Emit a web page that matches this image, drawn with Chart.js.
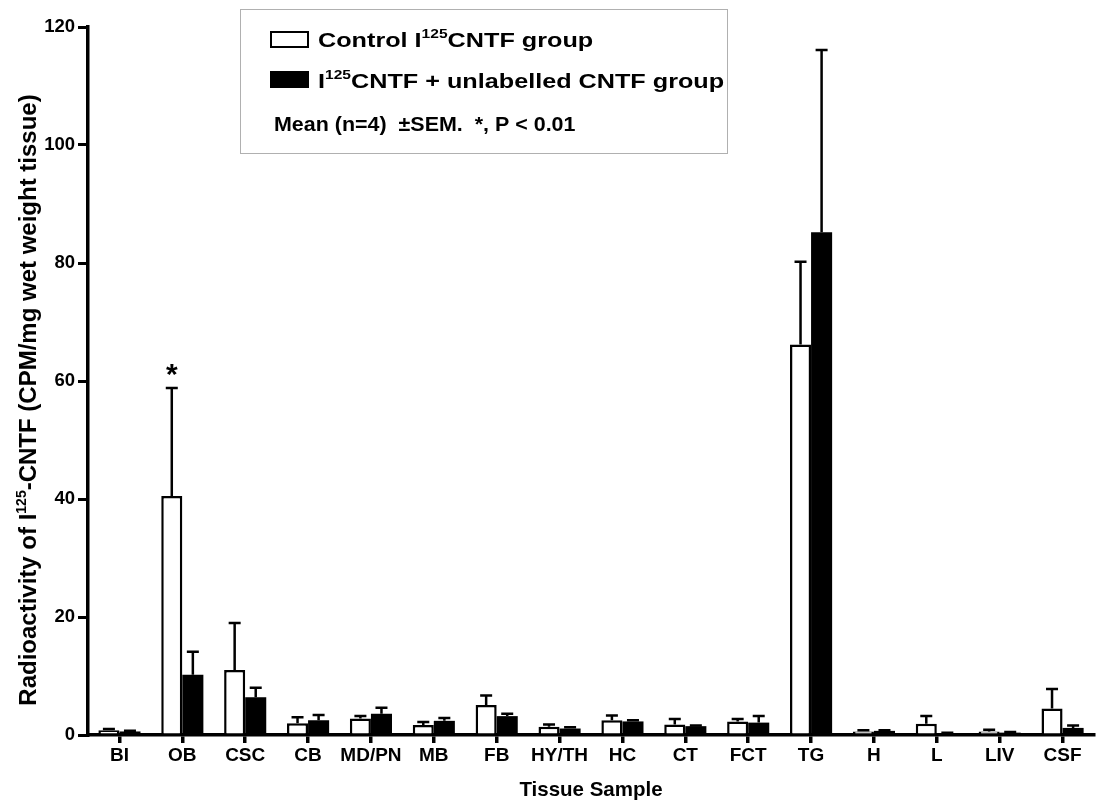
<!DOCTYPE html>
<html>
<head>
<meta charset="utf-8">
<script src="https://cdn.jsdelivr.net/npm/chart.js@4.4.1/dist/chart.umd.min.js"></script>
<style>
  html, body { margin: 0; padding: 0; background: #ffffff; }
  #wrap { width: 1114px; height: 807px; }
</style>
</head>
<body>
<div id="wrap"><canvas id="c" width="1114" height="807"></canvas></div>
<script>
// Tissue samples
const categories = ['BI', 'OB', 'CSC', 'CB', 'MD/PN', 'MB', 'FB', 'HY/TH', 'HC', 'CT', 'FCT', 'TG', 'H', 'L', 'LIV', 'CSF'];

// Control I125CNTF group: mean and SEM (CPM/mg wet weight tissue)
const controlMean = [0.8, 40.5, 11.0, 2.0, 2.8, 1.7, 5.1, 1.4, 2.5, 1.8, 2.3, 66.2, 0.6, 1.9, 0.6, 4.5];
const controlSem  = [0.2, 18.3, 8.0, 1.0, 0.4, 0.5, 1.6, 0.4, 0.8, 0.9, 0.4, 14.0, 0.2, 1.3, 0.3, 3.3];

// I125CNTF + unlabelled CNTF group: mean and SEM
const blockedMean = [0.6, 10.2, 6.4, 2.5, 3.6, 2.4, 3.2, 1.1, 2.3, 1.5, 2.1, 85.2, 0.7, 0.3, 0.4, 1.2];
const blockedSem  = [0.1, 3.9, 1.6, 0.9, 1.0, 0.5, 0.4, 0.2, 0.2, 0.1, 1.1, 30.9, 0.1, 0.1, 0.1, 0.4];

// Significance markers (control group), P < 0.01
const significance = ['', '*', '', '', '', '', '', '', '', '', '', '', '', '', '', ''];

// Y axis ticks
const yTicks = [0, 20, 40, 60, 80, 100, 120];

const FONT = '"Liberation Sans", Arial, Helvetica, sans-serif';
const semBySet = [controlSem, blockedSem];

// Draws text pieces where some parts are superscripts
function drawRich(ctx, parts, x, y, size) {
  let cx = x;
  for (const p of parts) {
    const s = p.sup ? Math.round(size * 0.6) : size;
    ctx.font = 'bold ' + s + 'px ' + FONT;
    const dy = p.sup ? -size * 0.42 : 0;
    ctx.fillText(p.t, cx, y + dy);
    cx += ctx.measureText(p.t).width;
  }
  return cx - x;
}
function measureRich(ctx, parts, size) {
  let w = 0;
  for (const p of parts) {
    const s = p.sup ? Math.round(size * 0.6) : size;
    ctx.font = 'bold ' + s + 'px ' + FONT;
    w += ctx.measureText(p.t).width;
  }
  return w;
}

const errorBars = {
  id: 'errorBars',
  afterDatasetsDraw(chart) {
    const ctx = chart.ctx;
    const y = chart.scales.y;
    ctx.save();
    ctx.strokeStyle = '#000';
    ctx.lineWidth = 2.5;
    chart.data.datasets.forEach((ds, di) => {
      const meta = chart.getDatasetMeta(di);
      meta.data.forEach((bar, i) => {
        const top = y.getPixelForValue(ds.data[i] + semBySet[di][i]);
        const base = y.getPixelForValue(ds.data[i]);
        ctx.beginPath();
        ctx.moveTo(bar.x, base);
        ctx.lineTo(bar.x, top);
        ctx.moveTo(bar.x - 6, top);
        ctx.lineTo(bar.x + 6, top);
        ctx.stroke();
        if (di === 0 && significance[i]) {
          ctx.fillStyle = '#000';
          ctx.font = 'bold 30px ' + FONT;
          ctx.textAlign = 'center';
          ctx.textBaseline = 'alphabetic';
          ctx.fillText(significance[i], bar.x, top - 4);
        }
      });
    });
    ctx.restore();
  }
};

const annotations = {
  id: 'annotations',
  afterDraw(chart) {
    const ctx = chart.ctx;
    ctx.save();
    ctx.fillStyle = '#000';
    ctx.textBaseline = 'alphabetic';
    ctx.textAlign = 'left';

    // Y axis title
    const yParts = [{t: 'Radioactivity of I'}, {t: '125', sup: true}, {t: '-CNTF (CPM/mg wet weight tissue)'}];
    const yw = measureRich(ctx, yParts, 24);
    ctx.save();
    ctx.translate(36, 400);
    ctx.rotate(-Math.PI / 2);
    drawRich(ctx, yParts, -yw / 2, 0, 24);
    ctx.restore();

    // Legend box
    ctx.strokeStyle = '#b0b0b0';
    ctx.lineWidth = 1;
    ctx.fillStyle = '#fff';
    ctx.fillRect(240.5, 9.5, 487, 144);
    ctx.strokeRect(240.5, 9.5, 487, 144);

    ctx.strokeStyle = '#000';
    ctx.lineWidth = 2;
    ctx.strokeRect(271, 32, 37, 15);
    ctx.fillStyle = '#000';
    ctx.fillRect(270, 71, 39, 17);

    // Legend text, drawn slightly widened
    ctx.save();
    ctx.translate(318, 0);
    ctx.scale(1.2, 1);
    drawRich(ctx, [{t: 'Control I'}, {t: '125', sup: true}, {t: 'CNTF group'}], 0, 47, 21);
    drawRich(ctx, [{t: 'I'}, {t: '125', sup: true}, {t: 'CNTF + unlabelled CNTF group'}], 0, 88, 21);
    ctx.restore();

    ctx.save();
    ctx.translate(274, 0);
    ctx.scale(1.1, 1);
    ctx.font = 'bold 19.5px ' + FONT;
    ctx.fillText('Mean (n=4)  \u00B1SEM.  *, P < 0.01', 0, 131);
    ctx.restore();
    ctx.restore();
  }
};

new Chart(document.getElementById('c'), {
  type: 'bar',
  data: {
    labels: categories,
    datasets: [
      {
        label: 'Control I125CNTF group',
        data: controlMean,
        backgroundColor: '#ffffff',
        borderColor: '#000000',
        borderWidth: 2.5,
        categoryPercentage: 0.67,
        barPercentage: 1.0
      },
      {
        label: 'I125CNTF + unlabelled CNTF group',
        data: blockedMean,
        backgroundColor: '#000000',
        borderColor: '#000000',
        borderWidth: 0,
        categoryPercentage: 0.67,
        barPercentage: 1.0
      }
    ]
  },
  options: {
    responsive: false,
    animation: false,
    layout: { padding: { top: 27, right: 20, bottom: 0, left: 0 } },
    plugins: {
      legend: { display: false },
      tooltip: { enabled: false }
    },
    scales: {
      x: {
        offset: true,
        grid: { display: true, offset: false, drawOnChartArea: false, drawTicks: true, tickLength: 8, lineWidth: 3.5, color: '#000' },
        border: { display: true, color: '#000', width: 3.5 },
        ticks: { color: '#000', font: { family: FONT, size: 19, weight: 'bold' }, padding: 1, maxRotation: 0, autoSkip: false },
        title: { display: true, text: 'Tissue Sample', color: '#000', font: { family: FONT, size: 20.5, weight: 'bold' }, padding: { top: 0, bottom: 4 } },
        afterFit(scale) { scale.height = 72; }
      },
      y: {
        min: 0,
        max: 120,
        afterBuildTicks(scale) { scale.ticks = yTicks.map(v => ({ value: v })); },
        grid: { display: true, drawOnChartArea: false, drawTicks: true, tickLength: 10, lineWidth: 3, color: '#000' },
        border: { display: true, color: '#000', width: 3.5 },
        ticks: { color: '#000', font: { family: FONT, size: 18.5, weight: 'bold' }, padding: 3 },
        afterFit(scale) { scale.width = 88; }
      }
    }
  },
  plugins: [errorBars, annotations]
});
</script>
</body>
</html>
